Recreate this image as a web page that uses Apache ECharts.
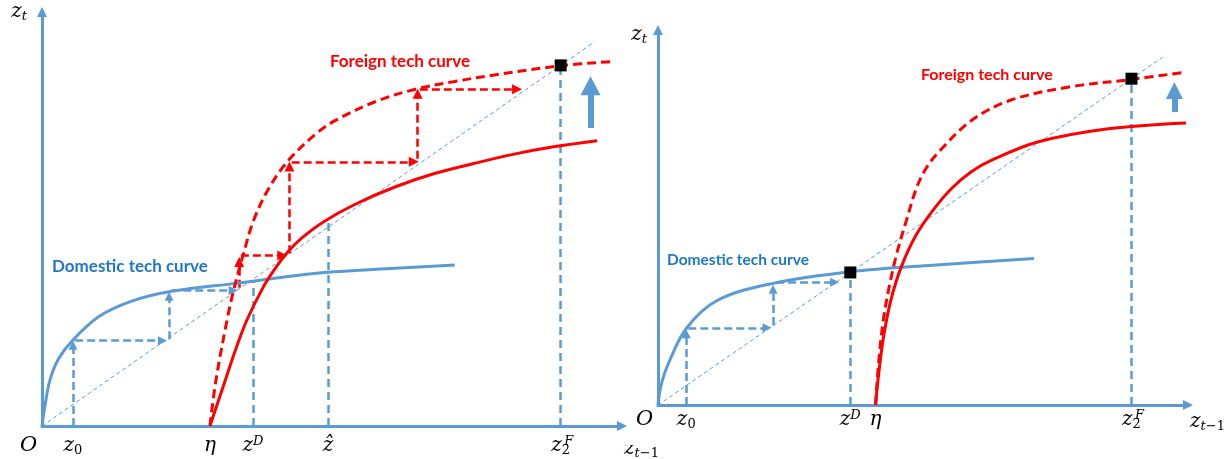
<!DOCTYPE html>
<html><head><meta charset="utf-8">
<script src="https://cdn.jsdelivr.net/npm/echarts@6/dist/echarts.min.js"></script>
<style>html,body{margin:0;padding:0;background:#fff}#chart{width:1228px;height:459px}</style>
</head><body><div id="chart"></div>
<script>
// ---------- Panel A (left) ----------
const diagonalA = [[0, 0], [100, 100]];
const domesticA = [[0, 0], [0.5, 5], [1.45, 12], [3, 17.5], [5.6, 22.4], [10.3, 28.5], [16, 32.4], [23.2, 35], [35.4, 37.2], [49.7, 39.8], [64, 41.1], [74.7, 41.9]];
const foreignA = [[30.4, 0], [33.2, 12], [35.2, 20.5], [37.1, 27.6], [40.1, 36.3], [42, 40.6], [44.3, 45], [47, 48.9], [51, 53.2], [56.8, 57.8], [64, 62.3], [71.2, 65.8], [78.3, 68.4], [85.5, 70.8], [92.6, 72.7], [100.5, 74.3]];
const foreignShiftA = [[30.4, 0], [31.5, 12], [33.5, 27.6], [34.7, 35.4], [36.5, 45], [38.3, 53.5], [41.1, 62], [44.7, 69.3], [49.7, 76.2], [53.3, 79.7], [60.4, 84.5], [67.6, 87.7], [74.7, 89.7], [81.9, 91.4], [93.9, 93.8], [103.2, 94.9]];
const steadyA = [[93.9, 93.9]];
const domArrowsA = [[[5.6, 0], [5.6, 21]], [[6, 22.2], [21.8, 22.2]], [[23, 22.6], [23, 33.8]], [[23.4, 35.3], [34.6, 35.3]]];
const guidesA = [[[38.2, 0], [38.2, 37.8]], [[51.8, 0], [51.8, 53.6]], [[93.9, 0], [93.9, 92.5]]];
const forArrowsA = [[[35.7, 36], [35.7, 42.7]], [[36, 44.4], [43.5, 44.4]], [[44.8, 45], [44.8, 67.6]], [[45.2, 68.8], [67.3, 68.8]], [[68, 69.6], [68, 86.5]], [[68.4, 87.7], [86, 87.7]]];
const shiftArrowA = [[[99.3, 77.6], [99.3, 88.6]]];
const ticksA = [5.6, 30.4, 38.2, 51.8, 93.9];
const tickLabelsA = ['{z|z}{sub|0}', '{g|η}', '{z|z}{sup|D}', '{z|ẑ}', '{z|z}{sub|2}'];
const extraTicksA = [0, 93.9];
const extraLabelsA = ['{o|O}', '{supF|F}'];

// ---------- Panel B (right) ----------
const diagonalB = [[0, 0], [100, 100]];
const domesticB = [[0, 0], [0.5, 5], [1.8, 11], [5.6, 22], [11.8, 30.1], [22.6, 34.9], [38.1, 38.3], [54.4, 40.2], [74.5, 42.1]];
const foreignB = [[43.1, 0], [43.8, 10], [44.8, 20.6], [46.2, 30.5], [48.2, 39.7], [51, 48.5], [54.5, 56], [58.2, 62.3], [62, 67], [66, 70.3], [75.2, 75.6], [89.2, 79.4], [104.6, 81.1]];
const foreignShiftB = [[43.1, 0], [43.7, 12], [44.6, 24], [45.8, 34], [47.3, 43.5], [49.2, 53], [51.3, 62.7], [53.3, 68.5], [55.9, 73.2], [62.1, 81.8], [69.8, 87.6], [81.4, 91.4], [93.8, 93.6], [104.6, 95.7]];
const steadyB = [[38.1, 38.1], [93.8, 93.8]];
const domArrowsB = [[[5.6, 0], [5.6, 20.5]], [[6, 22.2], [21.6, 22.2]], [[22.8, 23], [22.8, 33.3]], [[23.4, 35.3], [35, 35.3]]];
const guidesB = [[[38.1, 0], [38.1, 37]], [[93.8, 0], [93.8, 92.5]]];
const shiftArrowB = [[[102.3, 84.2], [102.3, 90.4]]];
const ticksB = [5.6, 38.1, 43.1, 93.8];
const tickLabelsB = ['{z|z}{sub|0}', '{z|z}{sup|D}', '{g|η}', '{z|z}{sub|2}'];
const extraTicksB = [0, 93.8];
const extraLabelsB = ['{o|O}', '{supF|F}'];

const yName = '{z|z}{subi|t}';
const xName = '{z|z}{subi|t}{sub|−1}';

// ---------- styling ----------
const BLUE = '#5b9bd5', RED = '#ff0000', TXTBLUE = '#1f77c6';
const SERIF = "'DejaVu Serif'";
const rich = {
  z: {fontFamily: SERIF, fontStyle: 'italic', fontSize: 20, lineHeight: 22, color: '#000'},
  g: {fontFamily: SERIF, fontStyle: 'italic', fontSize: 20, lineHeight: 22, color: '#000'},
  o: {fontFamily: SERIF, fontStyle: 'italic', fontSize: 21, lineHeight: 22, color: '#000', padding: [0, 27, 0, 0]},
  sub: {fontFamily: SERIF, fontSize: 13, lineHeight: 16, verticalAlign: 'bottom', color: '#000'},
  subi: {fontFamily: SERIF, fontStyle: 'italic', fontSize: 13, lineHeight: 16, verticalAlign: 'bottom', color: '#000'},
  sup: {fontFamily: SERIF, fontStyle: 'italic', fontSize: 13, lineHeight: 11, verticalAlign: 'top', color: '#000'},
  supF: {fontFamily: SERIF, fontStyle: 'italic', fontSize: 13, lineHeight: 11, verticalAlign: 'top', color: '#000', padding: [0, 0, 0, 16]}
};
const XMAX = 105, YMAX = 107.8;

function labelMap(ticks, labels) {
  const m = {};
  ticks.forEach((t, i) => { m[t] = labels[i]; });
  return v => (m[v] !== undefined ? m[v] : '');
}
function xAxisMain(grid, ticks, labels, margin, namePad) {
  return {
    type: 'value', gridIndex: grid, min: 0, max: XMAX, position: 'bottom',
    splitLine: {show: false}, axisTick: {show: false},
    axisLine: {show: true, onZero: false, symbol: ['none', 'triangle'], symbolSize: [10, 10],
      lineStyle: {color: BLUE, width: 3}},
    axisLabel: {show: true, customValues: ticks, formatter: labelMap(ticks, labels), margin: margin,
      hideOverlap: false, showMinLabel: true, showMaxLabel: true, rich: rich},
    name: xName, nameLocation: 'end', nameGap: 2, nameMoveOverlap: false,
    nameTextStyle: {align: 'left', verticalAlign: 'top', padding: namePad, rich: rich}
  };
}
function xAxisExtra(grid, ticks, labels, margin) {
  return {
    type: 'value', gridIndex: grid, min: 0, max: XMAX, position: 'bottom', offset: 0,
    splitLine: {show: false}, axisTick: {show: false}, axisLine: {show: false},
    axisLabel: {show: true, customValues: ticks, formatter: labelMap(ticks, labels), margin: margin,
      hideOverlap: false, showMinLabel: true, showMaxLabel: true, rich: rich}
  };
}
function yAxis(grid, namePad) {
  return {
    type: 'value', gridIndex: grid, min: 0, max: YMAX, position: 'left',
    splitLine: {show: false}, axisTick: {show: false}, axisLabel: {show: false},
    axisLine: {show: true, onZero: false, symbol: ['none', 'triangle'], symbolSize: [10, 10],
      lineStyle: {color: BLUE, width: 3}},
    name: yName, nameLocation: 'end', nameGap: 0, nameMoveOverlap: false,
    nameTextStyle: {align: 'right', verticalAlign: 'middle', padding: namePad, rich: rich}
  };
}

function curve(data, g, color, width, dash, z) {
  return {type: 'line', xAxisIndex: g * 2, yAxisIndex: g, data: data, smooth: 0.35,
    showSymbol: false, silent: true, clip: false, z: z,
    lineStyle: {color: color, width: width, type: dash || 'solid', cap: 'butt'}};
}
function segments(segs, g, color, width, dash, arrowSize, z) {
  return {type: 'line', xAxisIndex: g * 2, yAxisIndex: g, data: [], silent: true, z: z,
    markLine: {silent: true, animation: false,
      symbol: arrowSize ? ['none', 'triangle'] : ['none', 'none'],
      symbolSize: arrowSize || 0,
      label: {show: false}, emphasis: {disabled: true},
      itemStyle: {color: color},
      lineStyle: {color: color, width: width, type: dash, cap: 'butt'},
      data: segs.map(s => [{coord: s[0]}, {coord: s[1]}])}};
}
function squares(data, g) {
  return {type: 'scatter', xAxisIndex: g * 2, yAxisIndex: g, data: data, symbol: 'rect', symbolSize: 12,
    silent: true, z: 20, itemStyle: {color: '#000', opacity: 1}};
}

const option = {
  animation: false,
  backgroundColor: '#fff',
  grid: [
    {left: 42, top: 12, width: 580, height: 414, containLabel: false, outerBoundsMode: 'none'},
    {left: 658, top: 30, width: 530, height: 375, containLabel: false, outerBoundsMode: 'none'}
  ],
  xAxis: [
    xAxisMain(0, ticksA, tickLabelsA, 9, [12, 0, 0, 0]),
    xAxisExtra(0, extraTicksA, extraLabelsA, 9),
    xAxisMain(1, ticksB, tickLabelsB, 4, [6, 0, 0, 0]),
    xAxisExtra(1, extraTicksB, extraLabelsB, 4)
  ],
  yAxis: [yAxis(0, [0, 15, 0, 0]), yAxis(1, [10, 11, 0, 0])],
  series: [
    curve(diagonalA, 0, BLUE, 1, [4, 3], 1),
    segments(guidesA, 0, BLUE, 2.5, [8, 5], 0, 2),
    segments(domArrowsA, 0, BLUE, 2.5, [8, 4], [9, 9], 3),
    segments(forArrowsA, 0, RED, 2.5, [8, 4], [10, 10], 3),
    curve(domesticA, 0, BLUE, 3, 'solid', 5),
    curve(foreignA, 0, RED, 3, 'solid', 5),
    curve(foreignShiftA, 0, RED, 3, [9, 5], 5),
    segments(shiftArrowA, 0, BLUE, 6, 'solid', [20, 19], 6),
    squares(steadyA, 0),

    curve(diagonalB, 1, BLUE, 1, [4, 3], 1),
    segments(guidesB, 1, BLUE, 2.5, [8, 5], 0, 2),
    segments(domArrowsB, 1, BLUE, 2.5, [8, 4], [9, 9], 3),
    curve(domesticB, 1, BLUE, 3, 'solid', 5),
    curve(foreignB, 1, RED, 3, 'solid', 5),
    curve(foreignShiftB, 1, RED, 3, [9, 5], 5),
    segments(shiftArrowB, 1, BLUE, 6, 'solid', [17, 17], 6),
    squares(steadyB, 1)
  ],
  graphic: [
    {type: 'text', x: 330, y: 62, z: 50, style: {text: 'Foreign tech curve', fill: RED, font: 'bold 17px Lato', verticalAlign: 'middle'}},
    {type: 'text', x: 52, y: 267, z: 50, style: {text: 'Domestic tech curve', fill: TXTBLUE, font: 'bold 17px Lato', verticalAlign: 'middle'}},
    {type: 'text', x: 921, y: 75, z: 50, style: {text: 'Foreign tech curve', fill: RED, font: 'bold 16px Lato', verticalAlign: 'middle'}},
    {type: 'text', x: 667, y: 260, z: 50, style: {text: 'Domestic tech curve', fill: TXTBLUE, font: 'bold 15.5px Lato', verticalAlign: 'middle'}},
    {type: 'rect', z: 100, shape: {x: 617, y: 431, width: 56, height: 14}, style: {fill: '#fff'}}
  ]
};
const chart = echarts.init(document.getElementById('chart'), null, {renderer: 'canvas'});
chart.setOption(option);
</script></body></html>
